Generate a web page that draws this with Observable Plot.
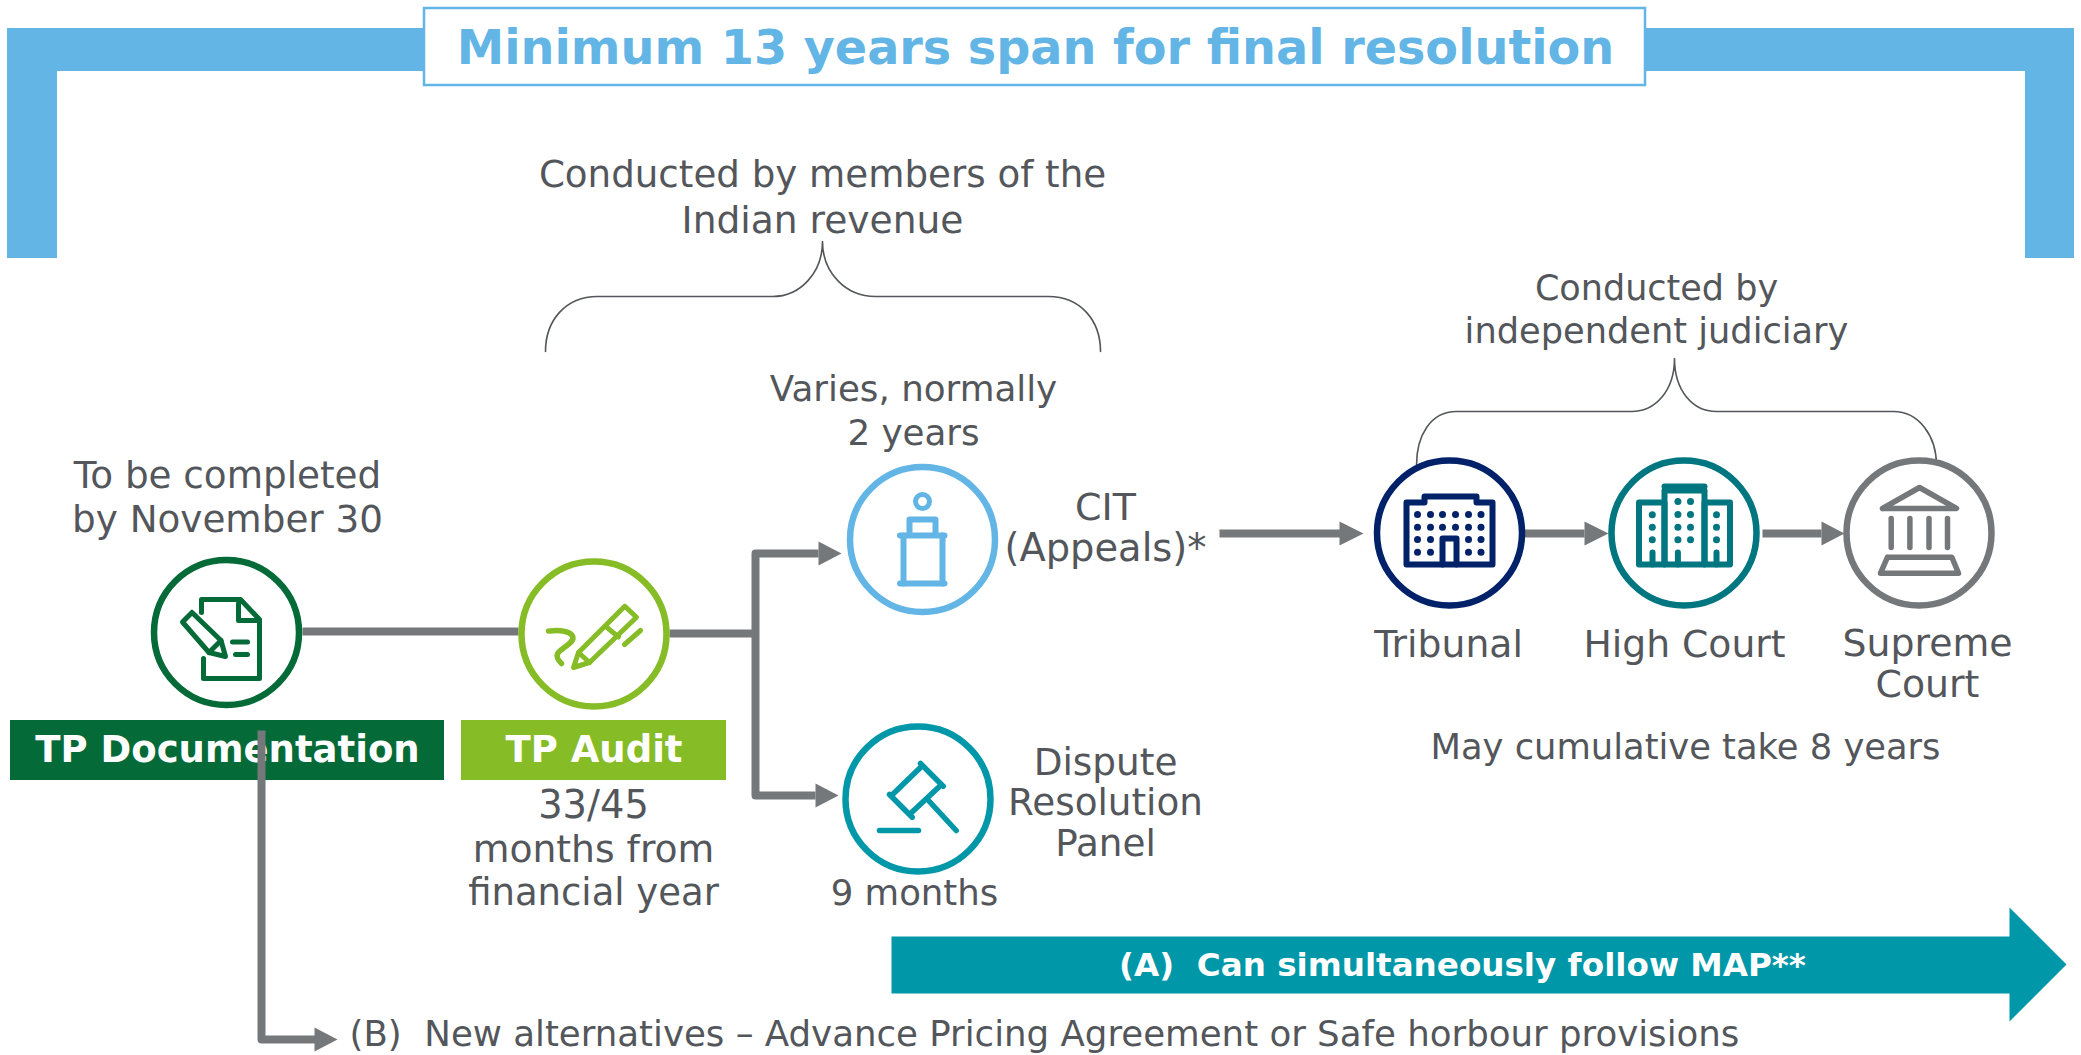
<!DOCTYPE html>
<html>
<head>
<meta charset="utf-8">
<style>html,body{margin:0;padding:0;background:#fff}svg{display:block}</style>
<script src="https://cdn.jsdelivr.net/npm/d3@7"></script>
<script src="https://cdn.jsdelivr.net/npm/@observablehq/plot@0.6"></script>
</head>
<body>
<script>
// ---- colours
const skyBlue="#62B5E5", darkGreen="#046A38", lightGreen="#86BC25", teal="#0097A9",
      navy="#012169", deepTeal="#007680", grey="#75787B", textGrey="#53565A";

// ---- texts
const titleText = ["Minimum 13 years span for final resolution"];
const bodyLabels = ["Conducted by members of the","Indian revenue","Conducted by","independent judiciary",
  "Varies, normally","2 years","To be completed","by November 30","CIT","(Appeals)*","Tribunal","High Court",
  "Supreme","Court","May cumulative take 8 years","Dispute","Resolution","Panel","9 months","33/45","months from","financial year"];
const bodyLabelX = [822,822,1656,1656,913,913,227,227,1105,1105,1448,1684,1927,1927,1685,1105,1105,1105,914,593,593,593];
const bodyLabelY = [175,220,288,331,389,433,476,520,507,548,644,644,643,684,747,763,803,844,893,805,849,893];
const bodyLabelSize = [37.2,37.6,35,35.2,35.7,35.7,37.3,37.3,38,38.4,37.7,37.7,37.8,37.8,35.3,37.4,37.3,37.3,35.5,38.4,37.7,37,];
const altLabel = ["(B)\u00a0\u00a0New alternatives – Advance Pricing Agreement or Safe horbour provisions"];
const mapLabel = ["(A)\u00a0\u00a0Can simultaneously follow MAP**"];
const stageNames = ["TP Documentation","TP Audit"];
const stageX1 = [10,461], stageX2 = [444,726], stageColors = [darkGreen,lightGreen];

// ---- nodes
const nodeX = [226,593.5,922,917.5,1449,1683.5,1918.5];
const nodeY = [632,633.5,539,798.5,532.5,532.5,532.5];
const nodeColors = [darkGreen,lightGreen,skyBlue,teal,navy,deepTeal,grey];
const nodes = nodeX.map((x,i)=>({x,y:nodeY[i],c:nodeColors[i]}));

// ---- connectors and arrows
const connectors = [
  [[302,631],[518,631]],
  [[669,633],[755,633]],
  [[818,553],[755,553],[755,795],[815,795]],
  [[1219,533],[1340,533]],
  [[1524,533],[1584,533]],
  [[1762,533],[1821,533]]
];
const dropLine = [[261,730],[261,1039],[316,1039]];
const arrowHeads = [
  [[818,541],[841,553],[818,565]],
  [[815,783],[838,795],[815,807]],
  [[1339,521],[1363,533],[1339,545]],
  [[1584,521],[1608,533],[1584,545]],
  [[1821,521],[1844,533],[1821,545]],
  [[314,1027],[337,1039],[314,1051]]
];
const bigArrow = [[891,936],[2009,936],[2009,907],[2066,964],[2009,1021],[2009,993],[891,993],[891,936]];

// ---- braces (start point, then control, control, end)
const braceA = [[545,351],[545,320],[565,296],[597,296],[650,296],[720,296],[772,296],[800,296],[822,272],[822,241],
  [822,272],[845,296],[875,296],[930,296],[990,296],[1048,296],[1080,296],[1100,320],[1100,351]];
const braceB = [[1416,465],[1416,435],[1430,411],[1456,411],[1510,411],[1580,411],[1631,411],[1655,411],[1674,390],[1674,358],
  [1674,390],[1692,411],[1716,411],[1770,411],[1840,411],[1893,411],[1918,411],[1936,435],[1936,465]];

// ---- icon outlines
const docIcon = [
  [[201,612],[201,599],[240,599],[259,619],[259,678],[203,678],[203,658]],
  [[238,603],[238,620],[257,620]],
  [[191.5,612],[182,621.5],[208.5,652],[225,656],[220.5,640],[191.5,612]],
  [[208.5,652],[220.5,640]],
  [[232,641.5],[247,641.5]],
  [[235,654],[247,654]]
];
const penIcon = [
  [[624.3,605.8],[636,616.8],[589,662],[573,667],[578,652],[624.3,605.8]],
  [[578,652],[589,662]],
  [[606,626.6],[618,636.5]],
  [[640,630],[624,644]]
];
const squiggle = [[548,630.6],[565,628],[578,634],[570,642],[562,650],[550,652],[561,663]];
const citIcon = [
  [[909,532],[909,519],[935,519],[935,532]],
  [[899.5,535],[944,535]],
  [[903,535],[903,583]],
  [[942,535],[942,583]],
  [[899.5,583],[944,583]]
];
const gavelIcon = [
  [[920,763],[942.7,785.7]],
  [[889,794],[911.7,816.7]],
  [[921,766],[891,795]],
  [[940,785],[910,813]],
  [[928,800],[955.7,830]],
  [[879,830],[918,830]]
];
const tribunalIcon = [
  [[1406,502],[1424,502],[1424,496],[1476,496],[1476,502],[1492,502],[1492,564],[1406,564],[1406,502]],
  [[1442,564],[1442,538],[1456,538],[1456,564]]
];
const tribunalWindowX = [1417,1430,1442,1455,1468,1480.5];
const tribunalWindowY = [514,526.7,539,551.7];
const tribunalDoorColumns = [1442,1455];
const courtIcon = [
  [[1638.5,502],[1664,502],[1664,564],[1638.5,564],[1638.5,502]],
  [[1664,490],[1704,490],[1704,564],[1664,564],[1664,490]],
  [[1704,502],[1729.5,502],[1729.5,564],[1704,564],[1704,502]],
  [[1664,486],[1704,486]],
  [[1652,564],[1652,552]],
  [[1677.4,564],[1677.4,552]],
  [[1716,564],[1716,552]]
];
const courtWindows = [
  [1651.8,514.3],[1651.8,526.7],[1651.8,539.3],
  [1677.4,501],[1677.4,514],[1677.4,526.7],[1677.4,539.3],
  [1690,501],[1690,514],[1690,526.7],[1690,539.3],
  [1716,514.3],[1716,526.7],[1716,539.3]
];
const supremeIcon = [
  [[1882,508],[1919,487],[1956,508],[1882,508]],
  [[1890.7,518],[1890.7,547]],
  [[1909.4,518],[1909.4,547]],
  [[1928.5,518],[1928.5,547]],
  [[1947,518],[1947,547]],
  [[1887,556.7],[1951.4,556.7],[1958,572.7],[1880,572.7],[1887,556.7]]
];

// ---- helpers
const FONT = "DejaVu Sans, Verdana, sans-serif";
function bezier(ctx){
  let p=[];
  return {
    lineStart(){p=[];},
    point(x,y){p.push([x,y]);},
    lineEnd(){
      ctx.moveTo(p[0][0],p[0][1]);
      for(let i=1;i+2<p.length;i+=3) ctx.bezierCurveTo(p[i][0],p[i][1],p[i+1][0],p[i+1][1],p[i+2][0],p[i+2][1]);
    },
    areaStart(){},areaEnd(){}
  };
}
const poly=(pts,o)=>Plot.line(pts,{x:d=>d[0],y:d=>d[1],strokeLinecap:"round",strokeLinejoin:"round",...o});
const group=(list,stroke,strokeWidth)=>list.map(pts=>poly(pts,{stroke,strokeWidth}));
const frameRects=[{x1:7,x2:2074,y1:28,y2:71},{x1:7,x2:57,y1:28,y2:258},{x1:2025,x2:2074,y1:28,y2:258}];
const grid=(xs,ys)=>xs.flatMap(x=>ys.map(y=>[x,y]));
const tribunalWindows=grid(tribunalWindowX,tribunalWindowY)
  .filter(([x,y])=>!(y>530&&tribunalDoorColumns.includes(x)));

const chart=Plot.plot({
  width:2081,height:1055,margin:0,
  x:{domain:[0,2081],axis:null},
  y:{domain:[1055,0],axis:null},
  style:{background:"#fff"},
  marks:[
    Plot.rect(frameRects,{x1:"x1",x2:"x2",y1:"y1",y2:"y2",fill:skyBlue}),
    Plot.rect([0],{x1:()=>424,x2:()=>1645,y1:()=>8,y2:()=>85,fill:"#fff",stroke:skyBlue,strokeWidth:2.5}),
    Plot.text(titleText,{x:()=>1035,y:()=>48,text:d=>d,fill:skyBlue,fontFamily:FONT,fontWeight:"bold",fontSize:47.7}),
    poly(braceA,{stroke:textGrey,strokeWidth:1.6,curve:bezier}),
    poly(braceB,{stroke:textGrey,strokeWidth:1.6,curve:bezier}),
    ...connectors.map(pts=>Plot.line(pts,{x:d=>d[0],y:d=>d[1],stroke:grey,strokeWidth:8,strokeLinecap:"butt",strokeLinejoin:"round"})),
    ...arrowHeads.map(pts=>Plot.line(pts,{x:d=>d[0],y:d=>d[1],fill:grey,stroke:"none"})),
    Plot.dot(nodes,{x:"x",y:"y",r:72.5,stroke:"c",fill:"#fff",strokeWidth:6.5}),
    Plot.rect(stageNames,{x1:(d,i)=>stageX1[i],x2:(d,i)=>stageX2[i],y1:()=>720,y2:()=>780,fill:(d,i)=>stageColors[i]}),
    Plot.text(stageNames,{x:(d,i)=>(stageX1[i]+stageX2[i])/2,y:()=>750,text:d=>d,fill:"#fff",fontFamily:FONT,fontWeight:"bold",fontSize:37}),
    Plot.line(dropLine,{x:d=>d[0],y:d=>d[1],stroke:grey,strokeWidth:8,strokeLinecap:"butt",strokeLinejoin:"round"}),
    Plot.line(bigArrow,{x:d=>d[0],y:d=>d[1],fill:teal,stroke:"none"}),
    Plot.text(mapLabel,{x:()=>1462,y:()=>965,text:d=>d,fill:"#fff",fontFamily:FONT,fontWeight:"bold",fontSize:32.6}),
    Plot.text(bodyLabels,{x:(d,i)=>bodyLabelX[i],y:(d,i)=>bodyLabelY[i],text:d=>d,fill:textGrey,fontFamily:FONT,fontSize:(d,i)=>bodyLabelSize[i]}),
    Plot.text(altLabel,{x:()=>349,y:()=>1034,text:d=>d,textAnchor:"start",fill:textGrey,fontFamily:FONT,fontSize:35.6}),
    ...group(docIcon,darkGreen,5),
    ...group(penIcon,lightGreen,5),
    poly(squiggle,{stroke:lightGreen,strokeWidth:5.5,curve:bezier}),
    ...group(citIcon,skyBlue,6),
    Plot.dot([[922,501]],{x:d=>d[0],y:d=>d[1],r:7,stroke:skyBlue,strokeWidth:5,fill:"#fff"}),
    ...group(gavelIcon,teal,5.5),
    ...group(tribunalIcon,navy,6),
    Plot.dot(tribunalWindows,{x:d=>d[0],y:d=>d[1],r:3.5,fill:navy}),
    ...group(courtIcon,deepTeal,6),
    Plot.dot(courtWindows,{x:d=>d[0],y:d=>d[1],r:3.5,fill:deepTeal}),
    ...group(supremeIcon,grey,5.5)
  ]
});
document.body.append(chart);
</script>
</body>
</html>
